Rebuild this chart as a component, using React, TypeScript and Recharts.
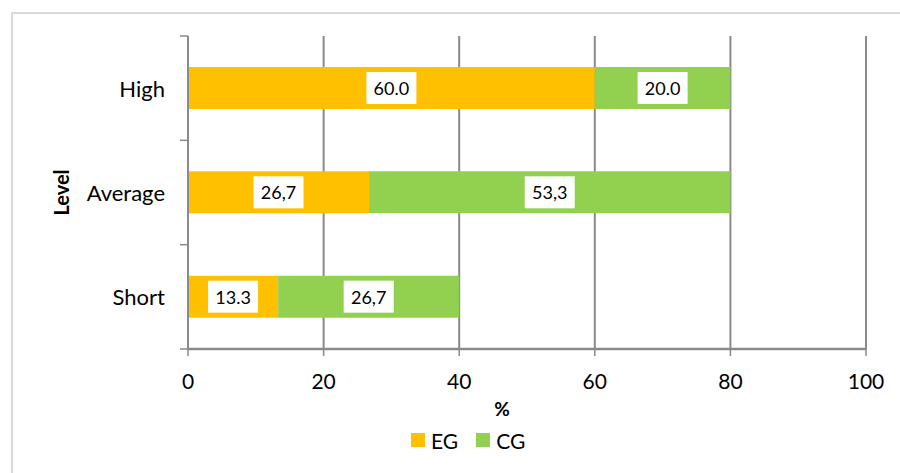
import { BarChart, Bar, XAxis, YAxis, CartesianGrid, Legend, LabelList } from "recharts";

const levels = ["High", "Average", "Short"];
const egValues = [60.0, 26.7, 13.3];
const cgValues = [20.0, 53.3, 26.7];
const egLabels = ["60.0", "26,7", "13.3"];
const cgLabels = ["20.0", "53,3", "26,7"];
const xTicks = [0, 20, 40, 60, 80, 100];

const series = [
  { key: "eg", name: "EG", color: "#FFC000" },
  { key: "cg", name: "CG", color: "#92D050" },
];

const data = levels.map((level, i) => ({
  level,
  eg: egValues[i],
  cg: cgValues[i],
  egLabel: egLabels[i],
  cgLabel: cgLabels[i],
}));

const GRID = "#8a8a8a";
const FONT = "Lato, 'Open Sans', sans-serif";
const Y_TICK_GAP = 23;
const Y_TICK_LEN = 8;

// white box with the value, centred on the segment
function BoxLabel(props: any) {
  const { x, y, width, height, value } = props;
  const cx = x + width / 2;
  const cy = y + height / 2;
  return (
    <g>
      <rect x={cx - 25} y={cy - 16} width={50} height={32} fill="#fff" />
      <text x={cx} y={cy} textAnchor="middle" dominantBaseline="central" fontSize={18} fill="#000">
        {value}
      </text>
    </g>
  );
}

// category label plus tick marks on the band edges (between categories)
function LevelTick(props: any) {
  const { x, y, payload, index, visibleTicksCount } = props;
  const half = payload?.offset ?? 0;
  const ax = x + Y_TICK_GAP;
  const edges = [y - half];
  if (index === visibleTicksCount - 1) edges.push(y + half);
  return (
    <g>
      {half > 0 &&
        edges.map((ey, i) => (
          <line key={i} x1={ax - Y_TICK_LEN} x2={ax} y1={ey} y2={ey} stroke={GRID} strokeWidth={1.5} />
        ))}
      <text x={x} y={y} textAnchor="end" dominantBaseline="central" fontSize={22} fill="#000">
        {payload.value}
      </text>
    </g>
  );
}

function LegendContent() {
  return (
    <div style={{ display: "flex", alignItems: "center", height: 36, paddingLeft: 411, fontSize: 21 }}>
      {series.map((s) => (
        <div key={s.key} style={{ display: "flex", alignItems: "center", marginRight: 18 }}>
          <span style={{ width: 14, height: 14, background: s.color, marginRight: 6, display: "inline-block" }} />
          <span style={{ color: "#000" }}>{s.name}</span>
        </div>
      ))}
    </div>
  );
}

export default function App() {
  return (
    <div style={{ position: "absolute", left: 0, top: 0, width: 900, height: 473, overflow: "hidden", background: "#fff", fontFamily: FONT }}>
      <div style={{ position: "absolute", left: 11, top: 12, width: 1000, height: 1000, border: "2px solid #d9d9d9" }} />
      <div style={{ position: "absolute", left: 0, top: 0 }}>
        <BarChart
          width={900}
          height={473}
          data={data}
          layout="vertical"
          margin={{ top: 36, right: 34, bottom: 15, left: 0 }}
        >
          <CartesianGrid horizontal={false} stroke={GRID} strokeWidth={2} />
          <YAxis
            type="category"
            dataKey="level"
            width={188}
            tickLine={false}
            tickSize={0}
            tickMargin={Y_TICK_GAP}
            axisLine={{ stroke: GRID, strokeWidth: 2 }}
            tick={<LevelTick />}
            label={{
              content: ({ viewBox }: any) => (
                <text
                  x={viewBox.x + 61}
                  y={viewBox.y + viewBox.height / 2}
                  transform={`rotate(-90 ${viewBox.x + 61} ${viewBox.y + viewBox.height / 2})`}
                  textAnchor="middle"
                  dominantBaseline="central"
                  fontSize={20}
                  fontWeight="bold"
                  fill="#000"
                >
                  Level
                </text>
              ),
            }}
          />
          <XAxis
            type="number"
            domain={[0, 100]}
            ticks={xTicks}
            height={73}
            tickSize={7}
            tickMargin={18}
            axisLine={{ stroke: GRID, strokeWidth: 2.5 }}
            tickLine={{ stroke: GRID, strokeWidth: 1.5 }}
            tick={{ fill: "#000", fontSize: 21 }}
            label={{
              content: ({ viewBox }: any) => (
                <text
                  x={viewBox.x + viewBox.width / 2 - 25}
                  y={viewBox.y + 59}
                  textAnchor="middle"
                  dominantBaseline="central"
                  fontSize={19}
                  fontWeight="bold"
                  fill="#000"
                >
                  %
                </text>
              ),
            }}
          />
          <Legend verticalAlign="bottom" height={36} content={<LegendContent />} />
          {series.map((s) => (
            <Bar key={s.key} dataKey={s.key} name={s.name} stackId="a" fill={s.color} barSize={42} isAnimationActive={false}>
              <LabelList dataKey={`${s.key}Label`} content={<BoxLabel />} />
            </Bar>
          ))}
        </BarChart>
      </div>
    </div>
  );
}
